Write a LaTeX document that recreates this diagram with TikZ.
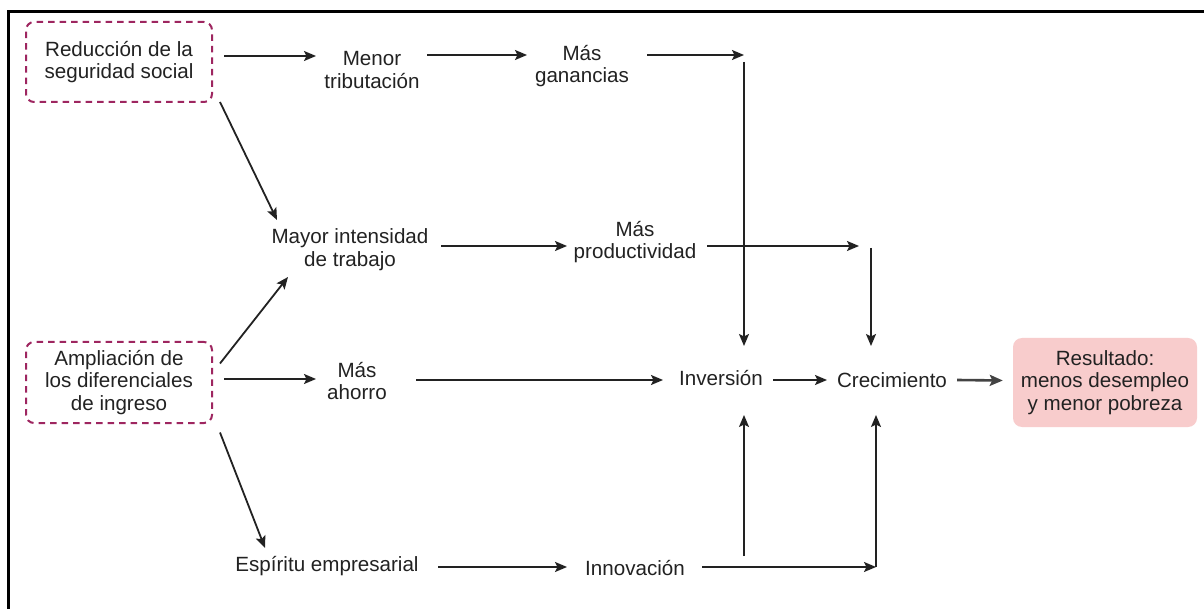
\documentclass[tikz,border=0pt]{standalone}
\usepackage{fontspec}
\setmainfont{Liberation Sans}
\usetikzlibrary{arrows.meta}
\definecolor{magbox}{RGB}{158,38,96}
\definecolor{resfill}{RGB}{248,204,204}
\definecolor{ink}{RGB}{34,34,34}
\begin{document}
\begin{tikzpicture}[x=1pt,y=-1pt,
  txt/.style={align=center, inner sep=0pt, font=\fontsize{20.6}{22.8}\selectfont, text=ink},
  srcbox/.style={draw=magbox, line width=2pt, dash pattern=on 6.5pt off 5pt, rounded corners=8pt,
    minimum width=186pt, minimum height=80pt, align=center, inner sep=0pt,
    font=\fontsize{20.6}{22.8}\selectfont, text=ink},
  resbox/.style={fill=resfill, rounded corners=9pt, minimum width=184pt, minimum height=89pt,
    align=center, inner sep=0pt, font=\fontsize{20.6}{22.5}\selectfont, text=ink},
  arr/.style={draw=ink, line width=1.8pt, -{Stealth[length=12pt,width=10pt,inset=2.5pt]}},
  arrthick/.style={draw=ink!85, line width=2.6pt, -{Stealth[length=13pt,width=11pt,inset=2.5pt]}},
  frame/.style={draw=black, line width=3pt}]

\useasboundingbox (0,0) rectangle (1204,609);
\fill[white] (0,0) rectangle (1204,609);
\draw[frame] (8,615) -- (8,11.5) -- (1210,11.5);

% nodes
\node[srcbox] (b1) at (119,62) {Reducción de la\\seguridad social};
\node[srcbox, minimum height=81pt] (b2) at (119,382.5) {Ampliación de\\los diferenciales\\de ingreso};
\node[txt] (men) at (372,70) {Menor\\tributación};
\node[txt] (gan) at (582,66) {Más\\ganancias};
\node[txt] (may) at (350,250) {Mayor intensidad\\de trabajo};
\node[txt] (pro) at (635,242) {Más\\productividad};
\node[txt] (aho) at (357,381) {Más\\ahorro};
\node[txt] (inv) at (721,378) {Inversión};
\node[txt] (cre) at (892,380) {Crecimiento};
\node[resbox] (res) at (1105,382.5) {Resultado:\\menos desempleo\\y menor pobreza};
\node[txt] (esp) at (327,566) {Espíritu empresarial};
\node[txt] (inn) at (635,568) {Innovación};

% corner coordinates
\coordinate (c1) at (744,55);
\coordinate (c2) at (871,246);
\coordinate (c3) at (876,567);
\coordinate (c4) at (744,556);

% connectors
\draw[arr] ([shift={(105,-6)}]b1.center) -- ([shift={(-56,-14)}]men.center);
\draw[arr] ([shift={(55,-15)}]men.center) -- ([shift={(-55,-11)}]gan.center);
\draw[arr] ([shift={(65,-11)}]gan.center) -- (c1);
\draw[arr] ([shift={(0,7)}]c1) -- ([shift={(23,-32)}]inv.center);

\draw[arr] ([shift={(101,40)}]b1.center) -- ([shift={(-73,-30)}]may.center);
\draw[arr] ([shift={(101,-19)}]b2.center) -- ([shift={(-62,27)}]may.center);
\draw[arr] ([shift={(91,-4)}]may.center) -- ([shift={(-68,4)}]pro.center);
\draw[arr] ([shift={(72,4)}]pro.center) -- ([shift={(-12,0)}]c2);
\draw[arr] ([shift={(0,2)}]c2) -- ([shift={(-21,-34)}]cre.center);

\draw[arr] ([shift={(105,-3.5)}]b2.center) -- ([shift={(-41,-2)}]aho.center);
\draw[arr] ([shift={(59,-1)}]aho.center) -- ([shift={(-58,2)}]inv.center);
\draw[arr] ([shift={(52,2)}]inv.center) -- ([shift={(-65,0)}]cre.center);
\draw[arrthick] ([shift={(65,0)}]cre.center) -- ([shift={(-10,-2)}]res.west);

\draw[arr] ([shift={(101,50)}]b2.center) -- ([shift={(-62,-18)}]esp.center);
\draw[arr] ([shift={(111,1)}]esp.center) -- ([shift={(-68,-1)}]inn.center);
\draw[arr] ([shift={(67,-1)}]inn.center) -- (c3);
\draw[arr] (c3) -- ([shift={(-16,35)}]cre.center);
\draw[arr] (c4) -- ([shift={(23,37)}]inv.center);
\end{tikzpicture}
\end{document}
